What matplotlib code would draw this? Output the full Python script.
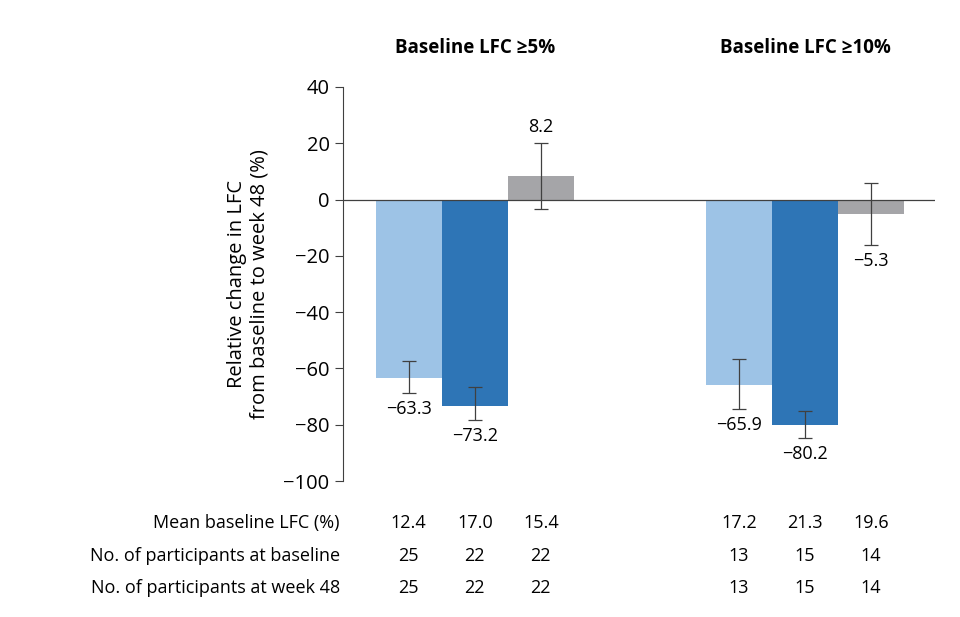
import numpy as np
import matplotlib.pyplot as plt

plt.rcParams['font.family'] = ['Open Sans', 'DejaVu Sans']

groups = ["Baseline LFC \u22655%", "Baseline LFC \u226510%"]
means = [[-63.3, -73.2, 8.2], [-65.9, -80.2, -5.3]]
err_hi = [[-57.3, -66.5, 20.0], [-56.5, -75.3, 6.0]]
err_lo = [[-68.8, -78.4, -3.5], [-74.3, -84.6, -16.3]]
row_labels = ["Mean baseline LFC (%)", "No. of participants at baseline",
              "No. of participants at week 48"]
row_values = [[["12.4", "17.0", "15.4"], ["17.2", "21.3", "19.6"]],
              [["25", "22", "22"], ["13", "15", "14"]],
              [["25", "22", "22"], ["13", "15", "14"]]]
colors = ["#9dc3e6", "#2e75b6", "#a5a5a8"]

fig = plt.figure(figsize=(9.6, 6.17), dpi=100)
ax = fig.add_axes([0.357, 0.2204, 0.617, 0.6386])
W = 66
group_start = [33, 363]
for g in range(2):
    for i in range(3):
        x = group_start[g] + W * i + W / 2
        m = means[g][i]
        ax.bar(x, m, width=W, color=colors[i], zorder=2)
        lo, hi = err_lo[g][i], err_hi[g][i]
        ax.errorbar(x, m, yerr=[[m - lo], [hi - m]], fmt='none', ecolor='#404040',
                    elinewidth=0.9, capsize=5, capthick=0.9, zorder=3)
        if m < 0:
            ax.text(x, lo - 2.5, f"\u2212{abs(m):.1f}", ha='center', va='top', fontsize=13)
        else:
            ax.text(x, hi + 2.5, f"{m:.1f}", ha='center', va='bottom', fontsize=13)
    ax.text(group_start[g] + 1.5 * W, 54, groups[g], ha='center', va='center',
            fontsize=13.5, fontweight='bold')
    for r in range(3):
        for i in range(3):
            ax.text(group_start[g] + W * i + W / 2, -115 - r * 11.5, row_values[r][g][i],
                    ha='center', va='center', fontsize=13, clip_on=False)

for r in range(3):
    ax.text(-3, -115 - r * 11.5, row_labels[r], ha='right', va='center', fontsize=13, clip_on=False)

ax.axhline(0, color='#404040', lw=0.9, zorder=4)
ax.set_xlim(0, 592)
ax.set_ylim(-100, 40)
ax.set_yticks(np.arange(-100, 41, 20))
ax.set_yticklabels([f"\u2212{abs(v)}" if v < 0 else str(v) for v in range(-100, 41, 20)], fontsize=14.5)
ax.set_xticks([])
for s in ['top', 'right', 'bottom']:
    ax.spines[s].set_visible(False)
ax.spines['left'].set_color('#404040')
ax.tick_params(axis='y', direction='out', length=6, color='#404040')
ax.set_ylabel("Relative change in LFC\nfrom baseline to week 48 (%)", fontsize=14.5, labelpad=10)

fig.savefig("out.png", dpi=100)
